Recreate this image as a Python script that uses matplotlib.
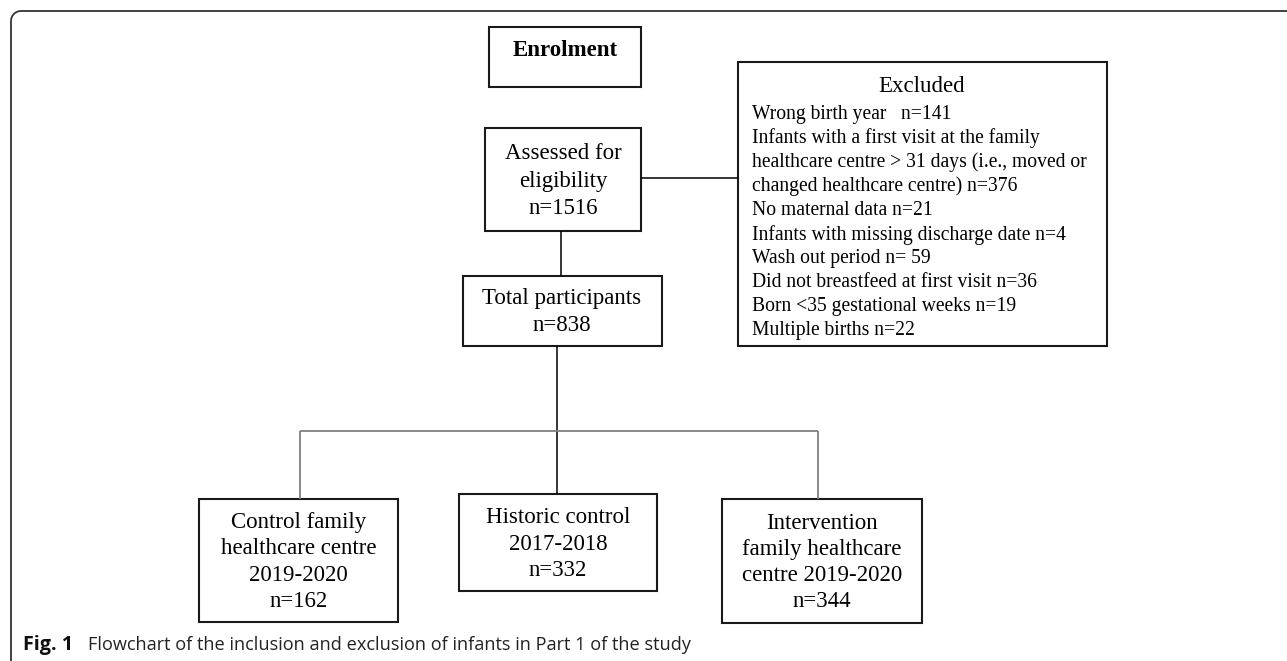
import matplotlib.pyplot as plt
from matplotlib.patches import Rectangle, Arc

# flowchart contents
enrol_label = "Enrolment"
assessed_label = "Assessed for\neligibility"
assessed_n = 1516
excluded_title = "Excluded"
excl_reasons = [
    "Wrong birth year",
    "Infants with a first visit at the family\nhealthcare centre > 31 days (i.e., moved or\nchanged healthcare centre)",
    "No maternal data",
    "Infants with missing discharge date",
    "Wash out period",
    "Did not breastfeed at first visit",
    "Born <35 gestational weeks",
    "Multiple births",
]
excl_n = [141, 376, 21, 4, 59, 36, 19, 22]
excl_gap = ["   ", " ", " ", " ", " ", " ", " ", " "]
excl_eq = ["=", "=", "=", "=", "= ", "=", "=", "="]
total_label = "Total participants"
total_n = 838
group_labels = [
    "Control family\nhealthcare centre\n2019-2020",
    "Historic control\n2017-2018",
    "Intervention\nfamily healthcare\ncentre 2019-2020",
]
group_n = [162, 332, 344]
caption_bold = "Fig. 1"
caption_text = "Flowchart of the inclusion and exclusion of infants in Part 1 of the study"

SERIF = "Liberation Serif"
BOX_FS = 16.5
LIST_FS = 14.1
EDGE = "#1a1a1a"
GRAY = "#808080"

fig = plt.figure(figsize=(12.87, 6.61), dpi=100)
ax = fig.add_axes([0, 0, 1, 1])
ax.set_xlim(0, 1287)
ax.set_ylim(661, 0)
ax.axis("off")


def box(x0, y0, x1, y1):
    ax.add_patch(Rectangle((x0, y0), x1 - x0, y1 - y0, fill=False,
                           edgecolor=EDGE, linewidth=1.5))


def line(xs, ys, color="black", lw=1.1):
    ax.plot(xs, ys, color=color, linewidth=lw, solid_capstyle="butt")


# outer frame (top + left edge with rounded corner)
line([21, 1287], [11, 11], color="#333333", lw=1.3)
line([11, 11], [21, 661], color="#333333", lw=1.3)
ax.add_patch(Arc((21, 21), 20, 20, theta1=180, theta2=270,
                 color="#333333", linewidth=1.3))

# enrolment
box(489, 27, 641, 87)
ax.text(565, 50, enrol_label, family=SERIF, fontsize=BOX_FS,
        fontweight="bold", ha="center", va="center")

# assessed
box(485, 128, 641, 231)
ax.text(563, 181, f"{assessed_label}\nn={assessed_n}", family=SERIF,
        fontsize=BOX_FS, ha="center", va="center", linespacing=1.4)

# excluded
line([641, 738], [178, 178])
box(738, 62, 1107, 346)
ax.text(922, 84, excluded_title, family=SERIF, fontsize=BOX_FS,
        ha="center", va="center_baseline")
rows = []
for r, n, g, e in zip(excl_reasons, excl_n, excl_gap, excl_eq):
    rows.extend(f"{r}{g}n{e}{n}".split("\n"))
for i, row in enumerate(rows):
    ax.text(752, 111.7 + 24.07 * i, row, family=SERIF, fontsize=LIST_FS,
            ha="left", va="center_baseline")

# total
line([561, 561], [231, 276])
box(463, 276, 662, 346)
ax.text(562, 312, f"{total_label}\nn={total_n}", family=SERIF,
        fontsize=BOX_FS, ha="center", va="center", linespacing=1.37)

# branches
line([557, 557], [346, 494])
line([300, 818], [431, 431], color=GRAY, lw=1.3)
line([300, 300], [431, 499], color=GRAY, lw=1.3)
line([818, 818], [431, 499], color=GRAY, lw=1.3)

group_boxes = [(199, 499, 398, 622), (459, 494, 657, 591), (722, 499, 922, 623)]
for (x0, y0, x1, y1), lab, n in zip(group_boxes, group_labels, group_n):
    box(x0, y0, x1, y1)
    ax.text((x0 + x1) / 2, (y0 + y1) / 2 + 1.5, f"{lab}\nn={n}", family=SERIF,
            fontsize=BOX_FS, ha="center", va="center", linespacing=1.32)

# caption
ax.text(23, 650, caption_bold, family="Open Sans", fontweight="bold",
        fontsize=14.2, ha="left", va="baseline", color="#111111")
ax.text(88, 650, caption_text, family="Open Sans", fontsize=13.1,
        ha="left", va="baseline", color="#222222")

fig.savefig("out.png", dpi=100)
